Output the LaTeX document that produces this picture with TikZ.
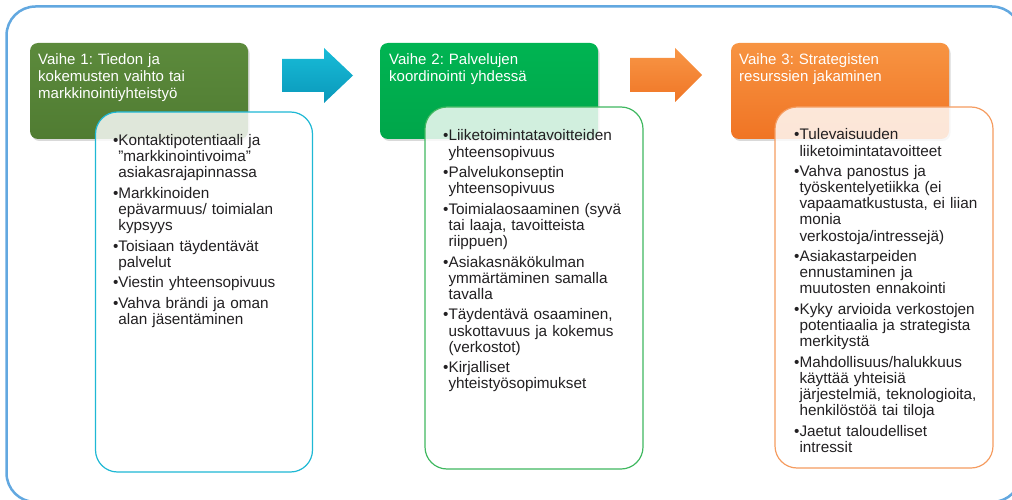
\documentclass[tikz,border=0pt]{standalone}
\usepackage{fontspec}
\setmainfont{Liberation Sans}
\usetikzlibrary{shadows}

\definecolor{frameblue}{RGB}{98,168,224}
\definecolor{phaseAtop}{RGB}{92,138,60}
\definecolor{phaseAbot}{RGB}{80,124,50}
\definecolor{phaseBtop}{RGB}{0,180,82}
\definecolor{phaseBbot}{RGB}{0,166,74}
\definecolor{phaseCtop}{RGB}{247,148,66}
\definecolor{phaseCbot}{RGB}{240,116,36}
\definecolor{lineA}{RGB}{30,184,212}
\definecolor{lineB}{RGB}{64,184,96}
\definecolor{lineC}{RGB}{245,156,96}
\definecolor{arrowAtop}{RGB}{24,188,216}
\definecolor{arrowAbot}{RGB}{10,152,186}
\definecolor{arrowBtop}{RGB}{248,150,70}
\definecolor{arrowBbot}{RGB}{240,118,38}
\definecolor{bodytext}{RGB}{34,32,34}

% gap between bullet items
\newlength\itemgap
\setlength\itemgap{4.5pt}
% bullet item with hanging indent
\newcommand\bitem[1]{\par\vskip\itemgap\setbox0\hbox{\textbullet}\hangindent=\wd0\hangafter=1
  \noindent\rule{0pt}{12pt}\box0#1\par}

\begin{document}
\frenchspacing
\begin{tikzpicture}[x=1pt,y=-1pt,
  phasebox/.style={anchor=north west,inner sep=0pt,outer sep=0pt,
    minimum width=218pt,minimum height=96pt,rounded corners=8pt,
    drop shadow={shadow xshift=1.5pt,shadow yshift=-2pt,opacity=0.25,fill=black!60}},
  detailbox/.style={anchor=north west,inner sep=0pt,outer sep=0pt,
    minimum width=218pt,rounded corners=22pt,line width=1.2pt,
    fill=white,fill opacity=0.82},
  phasetext/.style={anchor=north west,inner sep=0pt,text width=205pt,align=left,
    text=white,font=\fontsize{15}{17}\selectfont},
  itemtext/.style={anchor=north west,inner sep=0pt,text width=205pt,align=left,
    text=bodytext,font=\fontsize{15.3}{16.1}\selectfont\setlength{\parskip}{0pt}},
  frame/.style={draw=frameblue,line width=2.5pt,rounded corners=29pt}]

\useasboundingbox (0,0) rectangle (1012,500);
\clip (0,0) rectangle (1012,500);

% outer frame
\draw[frame] (6.5,6.5) rectangle (1021,502);

% phase headers
\node[phasebox,top color=phaseAtop,bottom color=phaseAbot] (h1) at (30,43) {};
\node[phasebox,top color=phaseBtop,bottom color=phaseBbot] (h2) at (380,43) {};
\node[phasebox,top color=phaseCtop,bottom color=phaseCbot] (h3) at (731,43) {};

\node[phasetext] (ht1) at (38,52) {\rule{0pt}{12pt}Vaihe 1: Tiedon ja\\kokemusten vaihto tai\\markkinointiyhteistyö};
\node[phasetext] (ht2) at (389,52) {\rule{0pt}{12pt}Vaihe 2: Palvelujen\\koordinointi yhdessä};
\node[phasetext] (ht3) at (739,52) {\rule{0pt}{12pt}Vaihe 3: Strategisten\\resurssien jakaminen};

% arrows between phases
\shade[top color=arrowAtop,bottom color=arrowAbot]
  (282,59) -- (324,59) -- (324,48) -- (353,75.5) -- (324,103) -- (324,92) -- (282,92) -- cycle;
\shade[top color=arrowBtop,bottom color=arrowBbot]
  (630,58) -- (675,58) -- (675,48) -- (702,75) -- (675,102) -- (675,92) -- (630,92) -- cycle;

% detail panels
\node[detailbox,draw=lineA,minimum width=217pt,minimum height=360pt] (d1) at (95.5,112) {};
\node[detailbox,draw=lineB,minimum height=362pt] (d2) at (425,107) {};
\node[detailbox,draw=lineC,minimum height=361pt] (d3) at (775,107) {};

\node[itemtext] (l1) at (112.8,129.4) {\vskip-\itemgap
  \bitem{Kontaktipotentiaali ja\newline ”markkinointivoima”\newline asiakasrajapinnassa}
  \bitem{Markkinoiden\newline epävarmuus/ toimialan\newline kypsyys}
  \bitem{Toisiaan täydentävät\newline palvelut}
  \bitem{Viestin yhteensopivuus}
  \bitem{Vahva brändi ja oman\newline alan jäsentäminen}};

\node[itemtext] (l2) at (443,124.7) {\vskip-\itemgap
  \bitem{Liiketoimintatavoitteiden\newline yhteensopivuus}
  \bitem{Palvelukonseptin\newline yhteensopivuus}
  \bitem{Toimialaosaaminen (syvä\newline tai laaja, tavoitteista\newline riippuen)}
  \bitem{Asiakasnäkökulman\newline ymmärtäminen samalla\newline tavalla}
  \bitem{Täydentävä osaaminen,\newline uskottavuus ja kokemus\newline (verkostot)}
  \bitem{Kirjalliset\newline yhteistyösopimukset}};

\node[itemtext] (l3) at (794,123.7) {\vskip-\itemgap
  \bitem{Tulevaisuuden\newline liiketoimintatavoitteet}
  \bitem{Vahva panostus ja\newline työskentelyetiikka (ei\newline vapaamatkustusta, ei liian\newline monia\newline verkostoja/intressejä)}
  \bitem{Asiakastarpeiden\newline ennustaminen ja\newline muutosten ennakointi}
  \bitem{Kyky arvioida verkostojen\newline potentiaalia ja strategista\newline merkitystä}
  \bitem{Mahdollisuus/halukkuus\newline käyttää yhteisiä\newline järjestelmiä, teknologioita,\newline henkilöstöä tai tiloja}
  \bitem{Jaetut taloudelliset\newline intressit}};

\end{tikzpicture}
\end{document}
